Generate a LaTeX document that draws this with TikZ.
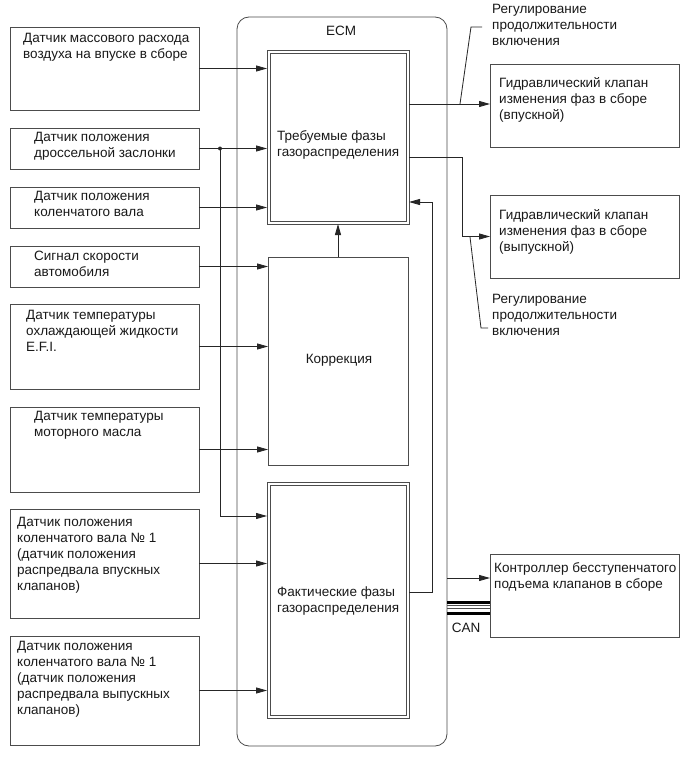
\documentclass[tikz,border=0pt]{standalone}
\usepackage{fontspec}
\setmainfont{Liberation Sans}
\usetikzlibrary{arrows.meta,calc}
\begin{document}
\begin{tikzpicture}[x=1pt,y=-1pt,
  box/.style={draw=black!70, line width=0.8pt, anchor=north west, inner sep=0pt, outer sep=0pt},
  inner/.style={draw=black!70, line width=0.8pt},
  txt/.style={anchor=north west, align=left, inner sep=0pt, font=\fontsize{13.5}{16}\selectfont, text=black!90},
  lbl/.style={inner sep=0pt, font=\fontsize{13.5}{16}\selectfont, text=black!90},
  arr/.style={draw=black!85, line width=0.8pt, -{Triangle[length=11pt,width=6pt]}},
  ln/.style={draw=black!85, line width=0.8pt},
]
\useasboundingbox[fill=white] (0,0) rectangle (690,757);

% ECM frame
\node[draw=black!70, line width=0.8pt, rounded corners=12pt, anchor=north west, inner sep=0pt, outer sep=0pt,
      minimum width=210pt, minimum height=729pt] (ecm) at (237,17) {};
\node[lbl] (ecmt) at (341,31) {ECM};

% left sensor boxes
\node[box, minimum width=189pt, minimum height=83pt]  (s1) at (10,27) {};
\node[box, minimum width=189pt, minimum height=41pt]  (s2) at (10,128) {};
\node[box, minimum width=189pt, minimum height=41pt]  (s3) at (10,187) {};
\node[box, minimum width=189pt, minimum height=41pt]  (s4) at (10,246) {};
\node[box, minimum width=189pt, minimum height=85pt]  (s5) at (10,304) {};
\node[box, minimum width=189pt, minimum height=85pt]  (s6) at (10,407) {};
\node[box, minimum width=189pt, minimum height=109pt] (s7) at (10,509) {};
\node[box, minimum width=189pt, minimum height=109pt] (s8) at (10,636) {};

\node[txt] (s1t) at (23,33.5)  {Датчик массового расхода\\воздуха на впуске в сборе};
\node[txt] (s2t) at (34,132.5) {Датчик положения\\дроссельной заслонки};
\node[txt] (s3t) at (34,191.5) {Датчик положения\\коленчатого вала};
\node[txt] (s4t) at (34,250.5) {Сигнал скорости\\автомобиля};
\node[txt] (s5t) at (26,310.5) {Датчик температуры\\охлаждающей жидкости\\E.F.I.};
\node[txt] (s6t) at (34,411.5) {Датчик температуры\\моторного масла};
\node[txt] (s7t) at (17,517.5) {Датчик положения\\коленчатого вала № 1\\(датчик положения\\распредвала впускных\\клапанов)};
\node[txt] (s8t) at (17,641.5) {Датчик положения\\коленчатого вала № 1\\(датчик положения\\распредвала выпускных\\клапанов)};

% ECM internal blocks
\node[box, minimum width=142pt, minimum height=174pt] (req) at (267,50) {};
\draw[inner] ($(req.north west)+(3,3)$) rectangle ($(req.south east)+(-3,-3)$);
\node[box, minimum width=140pt, minimum height=208pt] (corr) at (268,257) {};
\node[box, minimum width=142pt, minimum height=236pt] (act) at (267,482) {};
\draw[inner] ($(act.north west)+(3,3)$) rectangle ($(act.south east)+(-3,-3)$);

\node[txt] (reqt) at (277,130.5) {Требуемые фазы\\газораспределения};
\node[lbl] (corrt) at (339,360) {Коррекция};
\node[txt] (actt) at (277,586.5) {Фактические фазы\\газораспределения};

% right boxes
\node[box, minimum width=189pt, minimum height=83pt] (hv1) at (490,64) {};
\node[box, minimum width=189pt, minimum height=83pt] (hv2) at (490,195) {};
\node[box, minimum width=189pt, minimum height=83pt] (ctl) at (490,554) {};

\node[txt] (hv1t) at (499,77.5)  {Гидравлический клапан\\изменения фаз в сборе\\(впускной)};
\node[txt] (hv2t) at (499,209.5) {Гидравлический клапан\\изменения фаз в сборе\\(выпускной)};
\node[txt] (ctlt) at (494,562.5) {Контроллер бесступенчатого\\подъема клапанов в сборе};

\node[txt] (reg1) at (492,4.5)   {Регулирование\\продолжительности\\включения};
\node[txt] (reg2) at (492,294.5) {Регулирование\\продолжительности\\включения};
\node[lbl] (cant) at (466,628) {CAN};

% inputs
\draw[arr] (s1.east) -- (s1.east -| req.west);
\draw[arr] (s2.east) -- (s2.east -| req.west);
\draw[arr] (s3.east) -- (s3.east -| req.west);
\draw[arr] (s4.east) -- (s4.east -| corr.west);
\draw[arr] (s5.east) -- (s5.east -| corr.west);
\draw[arr] (s6.east) -- (s6.east -| corr.west);
\draw[arr] (s7.east) -- (s7.east -| act.west);
\draw[arr] (s8.east) -- (s8.east -| act.west);

\coordinate (j) at (220,148.5);
\coordinate (ja) at (220,516);
\fill[black!85] (j) circle (2pt);
\draw[arr] (j) -- (ja) -- (ja -| act.west);

% correction to required
\draw[arr] (corr.north) -- (req.south);

% outputs
\coordinate (o1) at (409,104);
\draw[arr] (o1) -- (o1 -| hv1.west);
\coordinate (k1) at (462,157);
\draw[arr] (k1 -| req.east) -- (k1) |- (hv2.west);

% feedback
\coordinate (f1) at (432,592);
\coordinate (f2) at (432,202);
\draw[arr] (f1 -| act.east) -- (f1) -- (f2) -- (f2 -| req.east);

% leaders
\coordinate (l1a) at (460,104);
\coordinate (l1b) at (471,27);
\coordinate (l1c) at (482,27);
\draw[ln] (l1a) -- (l1b) -- (l1c);
\coordinate (l2a) at (470,237);
\coordinate (l2b) at (481,328);
\coordinate (l2c) at (488,328);
\draw[ln] (l2a) -- (l2b) -- (l2c);

% ECM to controller
\coordinate (c1) at (447,578);
\draw[arr] (c1) -- (c1 -| ctl.west);
\coordinate (cb1) at (447,602.5);
\coordinate (cb2) at (447,605.5);
\coordinate (cb3) at (447,608.5);
\coordinate (cb4) at (447,613.5);
\draw[line width=2.8pt] (cb1) -- (cb1 -| ctl.west);
\draw[line width=0.6pt, black!70] (cb2) -- (cb2 -| ctl.west);
\draw[line width=0.6pt, black!70] (cb3) -- (cb3 -| ctl.west);
\draw[line width=2.8pt] (cb4) -- (cb4 -| ctl.west);
\end{tikzpicture}
\end{document}
